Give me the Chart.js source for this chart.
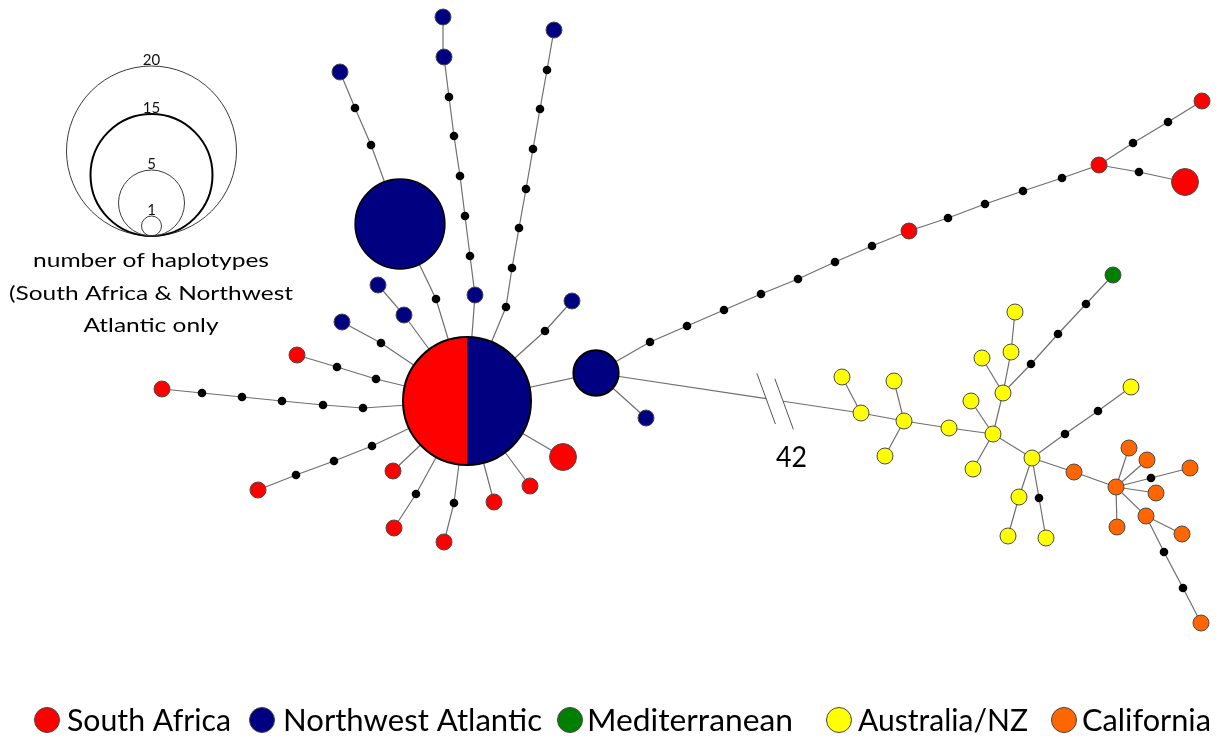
<!DOCTYPE html>
<html>
<head>
<meta charset="utf-8">
<script src="https://cdn.jsdelivr.net/npm/chart.js@4.4.1/dist/chart.umd.min.js"></script>
<style>
  html, body { margin: 0; background: #fff; }
  canvas { display: block; }
</style>
</head>
<body>
<canvas id="net" width="1223" height="738"></canvas>
<script>
// haplotype network: node positions (layout units), region and haplotype count
// MV = median vector (unsampled), MIX = shared South Africa / Northwest Atlantic
const nodeX = [467, 400, 596,
  436, 371, 355, 340,
  475, 470, 465, 460, 454, 449, 444, 443,
  506, 512, 519, 526, 533, 540, 547, 554,
  545, 572,
  404, 378,
  381, 342,
  376, 337, 297,
  363, 323, 282, 242, 202, 162,
  372, 334, 296, 258,
  393, 416, 394, 454, 444, 494, 530, 563, 646,
  650, 687, 724, 761, 798, 835, 872, 909, 948, 985, 1023, 1062, 1099,
  1133, 1168, 1202, 1139, 1185,
  861, 842, 904, 894, 885, 949, 993, 971, 973, 1003, 982, 1011, 1015,
  1031, 1058, 1086, 1113,
  1032, 1065, 1098, 1131, 1019, 1008, 1039, 1046,
  1074, 1116, 1129, 1147, 1151, 1190, 1156, 1117, 1146, 1182, 1164, 1183, 1201];
const nodeY = [401, 224, 373,
  299, 145, 108, 72,
  295, 256, 216, 176, 136, 97, 57, 17,
  307, 268, 228, 189, 149, 109, 70, 30,
  331, 301,
  315, 285,
  343, 322,
  379, 367, 355,
  408, 405, 401, 397, 393, 389,
  446, 461, 475, 490,
  471, 494, 528, 503, 542, 502, 486, 457, 418,
  342, 326, 310, 294, 279, 262, 246, 231, 218, 204, 191, 178, 165,
  143, 122, 101, 172, 182,
  413, 377, 421, 381, 456, 428, 434, 401, 469, 393, 358, 352, 312,
  364, 334, 304, 275,
  458, 434, 411, 387, 497, 536, 498, 538,
  472, 487, 448, 460, 478, 468, 493, 527, 516, 534, 552, 588, 623];
const nodeRegion = ['MIX', 'NWA', 'NWA',
  'MV', 'MV', 'MV', 'NWA',
  'NWA', 'MV', 'MV', 'MV', 'MV', 'MV', 'NWA', 'NWA',
  'MV', 'MV', 'MV', 'MV', 'MV', 'MV', 'MV', 'NWA',
  'MV', 'NWA',
  'NWA', 'NWA',
  'MV', 'NWA',
  'MV', 'MV', 'SA',
  'MV', 'MV', 'MV', 'MV', 'MV', 'SA',
  'MV', 'MV', 'MV', 'SA',
  'SA', 'MV', 'SA', 'MV', 'SA', 'SA', 'SA', 'SA', 'NWA',
  'MV', 'MV', 'MV', 'MV', 'MV', 'MV', 'MV', 'SA', 'MV', 'MV', 'MV', 'MV', 'SA',
  'MV', 'MV', 'SA', 'MV', 'SA',
  'AUS', 'AUS', 'AUS', 'AUS', 'AUS', 'AUS', 'AUS', 'AUS', 'AUS', 'AUS', 'AUS', 'AUS', 'AUS',
  'MV', 'MV', 'MV', 'MED',
  'AUS', 'MV', 'MV', 'AUS', 'AUS', 'AUS', 'MV', 'AUS',
  'CAL', 'CAL', 'CAL', 'CAL', 'MV', 'CAL', 'CAL', 'CAL', 'CAL', 'CAL', 'MV', 'MV', 'CAL'];
const nodeCount = nodeRegion.map(r => r === 'MV' ? 0 : 1);
nodeCount[0] = 16; nodeCount[1] = 10; nodeCount[2] = 4; nodeCount[49] = 2; nodeCount[68] = 2;

// connections, as chains of node indices
const paths = [
  [0, 3, 1, 4, 5, 6],
  [0, 7, 8, 9, 10, 11, 12, 13, 14],
  [0, 15, 16, 17, 18, 19, 20, 21, 22],
  [0, 23, 24], [0, 25, 26], [0, 27, 28], [0, 29, 30, 31],
  [0, 32, 33, 34, 35, 36, 37], [0, 38, 39, 40, 41],
  [0, 42], [0, 43, 44], [0, 45, 46], [0, 47], [0, 48], [0, 49], [0, 2, 50],
  [2, 51, 52, 53, 54, 55, 56, 57, 58, 59, 60, 61, 62, 63, 64, 65, 66], [63, 67, 68],
  [69, 70], [69, 71, 74, 75, 86, 94, 95, 102, 104, 105, 106], [71, 72], [71, 73],
  [75, 76], [75, 77], [75, 78, 80, 81], [78, 79], [78, 82, 83, 84, 85],
  [86, 87, 88, 89], [86, 90, 91], [86, 92, 93],
  [95, 96], [95, 97], [95, 98, 99], [95, 100], [95, 101], [102, 103]
];
// long connection broken on the drawing, with its number of mutational steps
const brokenEdge = [2, 69];
const brokenSteps = '42';

const regionCodes = ['SA', 'NWA', 'MED', 'AUS', 'CAL'];
const regionNames = ['South Africa', 'Northwest Atlantic', 'Mediterranean', 'Australia/NZ', 'California'];
const sizeKeyCounts = ['20', '15', '5', '1'];
const sizeKeyTitle = ['number of haplotypes', '(South Africa & Northwest', 'Atlantic only'];

const colors = { SA: '#FF0000', NWA: '#000080', MED: '#008000', AUS: '#FFFF00', CAL: '#FF6600', MV: '#000000' };

function radiusFor(count) {
  return count === 0 ? 4.3 : 8 * Math.pow(count, 0.75);
}

function pt(i) { return { x: nodeX[i], y: nodeY[i] }; }

const edgeSets = paths.map(p => ({
  type: 'line',
  data: p.map(pt),
  borderColor: '#6f6f6f',
  borderWidth: 1.2,
  pointRadius: 0,
  fill: false,
  order: 2
}));

// broken edge: drawn in two pieces around the gap
const gapFrom = 0.642, gapTo = 0.706;
function along(t) {
  const a = brokenEdge[0], b = brokenEdge[1];
  return { x: nodeX[a] + (nodeX[b] - nodeX[a]) * t, y: nodeY[a] + (nodeY[b] - nodeY[a]) * t };
}
edgeSets.push({ type: 'line', data: [pt(brokenEdge[0]), along(gapFrom)], borderColor: '#6f6f6f', borderWidth: 1.2, pointRadius: 0, order: 2 });
edgeSets.push({ type: 'line', data: [along(gapTo), pt(brokenEdge[1])], borderColor: '#6f6f6f', borderWidth: 1.2, pointRadius: 0, order: 2 });

function nodeSet(code) {
  const idx = nodeRegion.map((r, i) => r === code ? i : -1).filter(i => i >= 0);
  return {
    type: 'scatter',
    label: code,
    data: idx.map(pt),
    pointRadius: idx.map(i => radiusFor(nodeCount[i])),
    pointHoverRadius: idx.map(i => radiusFor(nodeCount[i])),
    pointBackgroundColor: colors[code] || '#000',
    pointBorderColor: code === 'MV' ? '#000' : idx.map(i => nodeCount[i] >= 4 ? '#000' : '#4a4a4a'),
    pointBorderWidth: code === 'MV' ? 0 : idx.map(i => nodeCount[i] >= 4 && nodeCount[i] < 10 ? 2 : (nodeCount[i] >= 10 ? 1.3 : 1)),
    order: 1
  };
}

const nodeSets = ['MV', 'SA', 'NWA', 'MED', 'AUS', 'CAL'].map(nodeSet);

// shared node: half red, half navy
nodeSets.push({
  type: 'scatter',
  label: 'MIX',
  data: [pt(0)],
  pointRadius: radiusFor(nodeCount[0]),
  pointHoverRadius: radiusFor(nodeCount[0]),
  pointBorderColor: '#000',
  pointBorderWidth: 2,
  pointBackgroundColor: function (c) {
    const chart = c.chart;
    const px = chart.scales && chart.scales.x ? chart.scales.x.getPixelForValue(nodeX[0]) : NaN;
    if (!isFinite(px)) return colors.SA;
    const r = radiusFor(nodeCount[0]);
    const g = chart.ctx.createLinearGradient(px - r, 0, px + r, 0);
    g.addColorStop(0, colors.SA);
    g.addColorStop(0.5, colors.SA);
    g.addColorStop(0.5, colors.NWA);
    g.addColorStop(1, colors.NWA);
    return g;
  },
  order: 0
});

function fitText(ctx, text, x, y, w, align) {
  const m = ctx.measureText(text).width;
  ctx.save();
  ctx.translate(x, y);
  ctx.scale(w / m, 1);
  ctx.textAlign = align;
  ctx.fillText(text, 0, 0);
  ctx.restore();
}

const decorations = {
  id: 'decorations',
  afterDatasetsDraw(chart) {
    const ctx = chart.ctx;
    const sx = chart.scales.x, sy = chart.scales.y;
    ctx.save();
    ctx.textBaseline = 'alphabetic';
    ctx.fillStyle = '#000';

    // size key: circles resting on one point
    const keyR = [85, 61, 33, 10], keyW = [1, 2, 1, 1], keyC = ['#3a3a3a', '#000', '#3a3a3a', '#3a3a3a'];
    const bx = 151.5, by = 236;
    ctx.font = '15px Lato';
    ctx.textAlign = 'center';
    sizeKeyCounts.forEach((lab, i) => {
      ctx.beginPath();
      ctx.arc(bx, by - keyR[i], keyR[i], 0, Math.PI * 2);
      ctx.lineWidth = keyW[i];
      ctx.strokeStyle = keyC[i];
      ctx.stroke();
      ctx.fillStyle = '#111';
      ctx.fillText(lab, bx, by - 2 * keyR[i] - 1);
    });
    ctx.fillStyle = '#000';
    ctx.font = '20px Lato';
    const titleY = [267, 300, 332], titleW = [236, 284, 135];
    sizeKeyTitle.forEach((t, i) => fitText(ctx, t, 151, titleY[i], titleW[i], 'center'));

    // break marks on the long connection
    const p1 = along(gapFrom), p2 = along(gapTo);
    const dx = 0.343, dy = 0.939, h = 27;
    ctx.strokeStyle = '#555';
    ctx.lineWidth = 1;
    [[p1, 0], [p2, 3]].forEach(([p, off]) => {
      const cx = sx.getPixelForValue(p.x) + dx * off, cy = sy.getPixelForValue(p.y) + dy * off;
      ctx.beginPath();
      ctx.moveTo(cx - dx * h, cy - dy * h);
      ctx.lineTo(cx + dx * h, cy + dy * h);
      ctx.stroke();
    });
    ctx.font = '28px Lato';
    const mx = sx.getPixelForValue((p1.x + p2.x) / 2), my = sy.getPixelForValue((p1.y + p2.y) / 2);
    fitText(ctx, brokenSteps, mx + 17, my + 67, 31, 'center');

    // region legend along the bottom
    const legCx = [47, 262, 570, 839, 1064], legTx = [67, 283, 587, 858, 1082], legW = [164, 259, 206, 170, 129];
    ctx.font = '31px Lato';
    regionNames.forEach((name, i) => {
      ctx.beginPath();
      ctx.arc(legCx[i], 720, 12.5, 0, Math.PI * 2);
      ctx.fillStyle = colors[regionCodes[i]];
      ctx.fill();
      ctx.strokeStyle = '#444';
      ctx.lineWidth = 1;
      ctx.stroke();
      ctx.fillStyle = '#000';
      fitText(ctx, name, legTx[i], 731, legW[i], 'left');
    });
    ctx.restore();
  }
};

new Chart(document.getElementById('net'), {
  type: 'scatter',
  data: { datasets: nodeSets.concat(edgeSets) },
  options: {
    responsive: false,
    animation: false,
    layout: { padding: 0, autoPadding: false },
    scales: {
      x: { type: 'linear', min: 0, max: 1223, display: false },
      y: { type: 'linear', min: 0, max: 738, reverse: true, display: false }
    },
    plugins: { legend: { display: false }, tooltip: { enabled: false } },
    events: []
  },
  plugins: [decorations]
});
</script>
</body>
</html>
